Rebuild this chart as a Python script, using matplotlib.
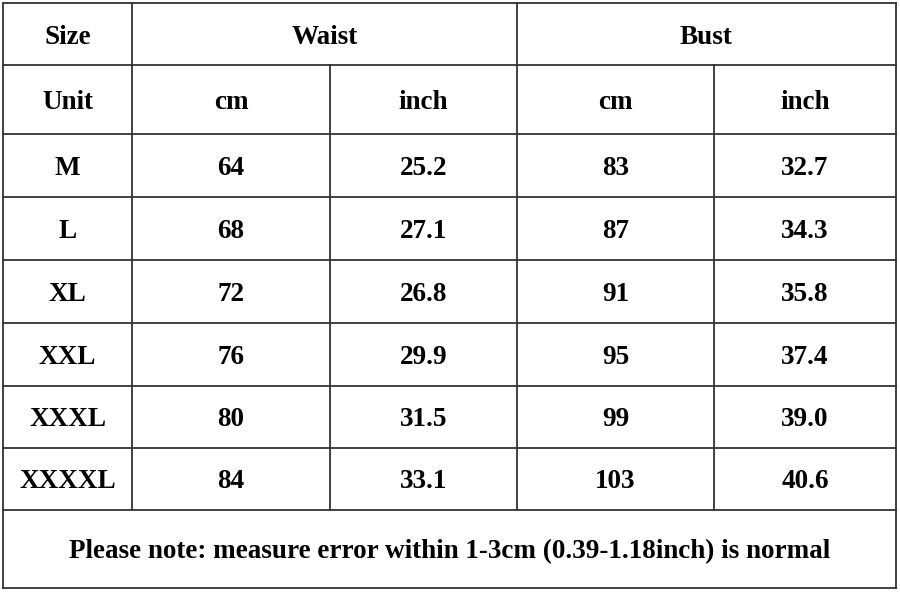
import matplotlib.pyplot as plt

sizes = ["M", "L", "XL", "XXL", "XXXL", "XXXXL"]
waist_cm = ["64", "68", "72", "76", "80", "84"]
waist_inch = ["25.2", "27.1", "26.8", "29.9", "31.5", "33.1"]
bust_cm = ["83", "87", "91", "95", "99", "103"]
bust_inch = ["32.7", "34.3", "35.8", "37.4", "39.0", "40.6"]
note = "Please note: measure error within 1-3cm (0.39-1.18inch) is normal"

# grid layout in pixels
col_edges = [3, 132, 330, 517, 714, 896]
row_edges = [3, 65, 134, 197, 260, 323, 386, 448, 510, 588]

fig = plt.figure(figsize=(9, 5.94), dpi=100)
ax = fig.add_axes([0, 0, 1, 1])
ax.set_xlim(0, 900)
ax.set_ylim(594, 0)
ax.axis("off")

lc = "#333333"
lw = 1.3

# horizontal lines
for y in row_edges:
    ax.plot([col_edges[0], col_edges[-1]], [y, y], color=lc, lw=lw)
# outer verticals
for x in (col_edges[0], col_edges[-1]):
    ax.plot([x, x], [row_edges[0], row_edges[-1]], color=lc, lw=lw)
# first column divider
ax.plot([col_edges[1]] * 2, [row_edges[0], row_edges[-2]], color=lc, lw=lw)
# Waist / Bust divider
ax.plot([col_edges[3]] * 2, [row_edges[0], row_edges[-2]], color=lc, lw=lw)
# cm / inch dividers below group header
for x in (col_edges[2], col_edges[4]):
    ax.plot([x, x], [row_edges[1], row_edges[-2]], color=lc, lw=lw)

font = dict(family="Liberation Serif", weight="bold", fontsize=19.5,
            ha="center", va="center_baseline", color="black")

def cx(i, j=None):
    j = i + 1 if j is None else j
    return (col_edges[i] + col_edges[j]) / 2

def cy(r):
    return (row_edges[r] + row_edges[r + 1]) / 2

ax.text(cx(0), cy(0), "Size", **font)
ax.text(cx(1, 3), cy(0), "Waist", **font)
ax.text(cx(3, 5), cy(0), "Bust", **font)

ax.text(cx(0), cy(1), "Unit", **font)
for i, u in enumerate(["cm", "inch", "cm", "inch"]):
    ax.text(cx(i + 1), cy(1), u, **font)

for r, row in enumerate(zip(sizes, waist_cm, waist_inch, bust_cm, bust_inch)):
    for c, val in enumerate(row):
        ax.text(cx(c), cy(r + 2), val, **font)

ax.text(cx(0, 5), cy(8), note, **font)

fig.savefig("out.png", dpi=100, facecolor="white")
